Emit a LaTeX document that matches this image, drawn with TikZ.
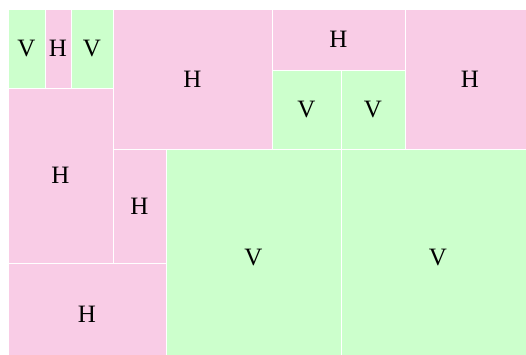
\documentclass[tikz,border=0pt]{standalone}
\usepackage{fontspec}
\setmainfont{Liberation Serif}
\definecolor{pinkc}{HTML}{F9CCE6}
\definecolor{greenc}{HTML}{CCFFCC}
\begin{document}
\begin{tikzpicture}[x=1pt,y=-1pt,
  hbox/.style={fill=pinkc,draw=white,line width=1pt},
  vbox/.style={fill=greenc,draw=white,line width=1pt},
  lab/.style={font=\fontsize{25}{25}\selectfont,inner sep=0pt}]
\fill[white] (0,0) rectangle (526,354);
\begin{scope}
\clip (0,0) rectangle (526,354);
\draw[vbox] (8,9) rectangle (45,88) node[lab,midway] (v1) {V};
\draw[hbox] (45,9) rectangle (71,88) node[lab,midway] (h1) {H};
\draw[vbox] (71,9) rectangle (113,88) node[lab,midway] (v2) {V};
\draw[hbox] (8,88) rectangle (113,263) node[lab,midway] (h2) {H};
\draw[hbox] (113,9) rectangle (272,149) node[lab,midway] (h3) {H};
\draw[hbox] (272,9) rectangle (405,70) node[lab,midway] (h4) {H};
\draw[vbox] (272,70) rectangle (341,149) node[lab,midway] (v3) {V};
\draw[vbox] (341,70) rectangle (405,149) node[lab,midway] (v4) {V};
\draw[hbox] (405,9) rectangle (535,149) node[lab,midway] (h5) {H};
\draw[hbox] (113,149) rectangle (166,263) node[lab,midway] (h6) {H};
\draw[hbox] (8,263) rectangle (166,365) node[lab,midway] (h7) {H};
\draw[vbox] (166,149) rectangle (341,365) node[lab,midway] (v5) {V};
\draw[vbox] (341,149) rectangle (535,365) node[lab,midway] (v6) {V};
\end{scope}
\useasboundingbox (0,0) rectangle (526,354);
\end{tikzpicture}
\end{document}
